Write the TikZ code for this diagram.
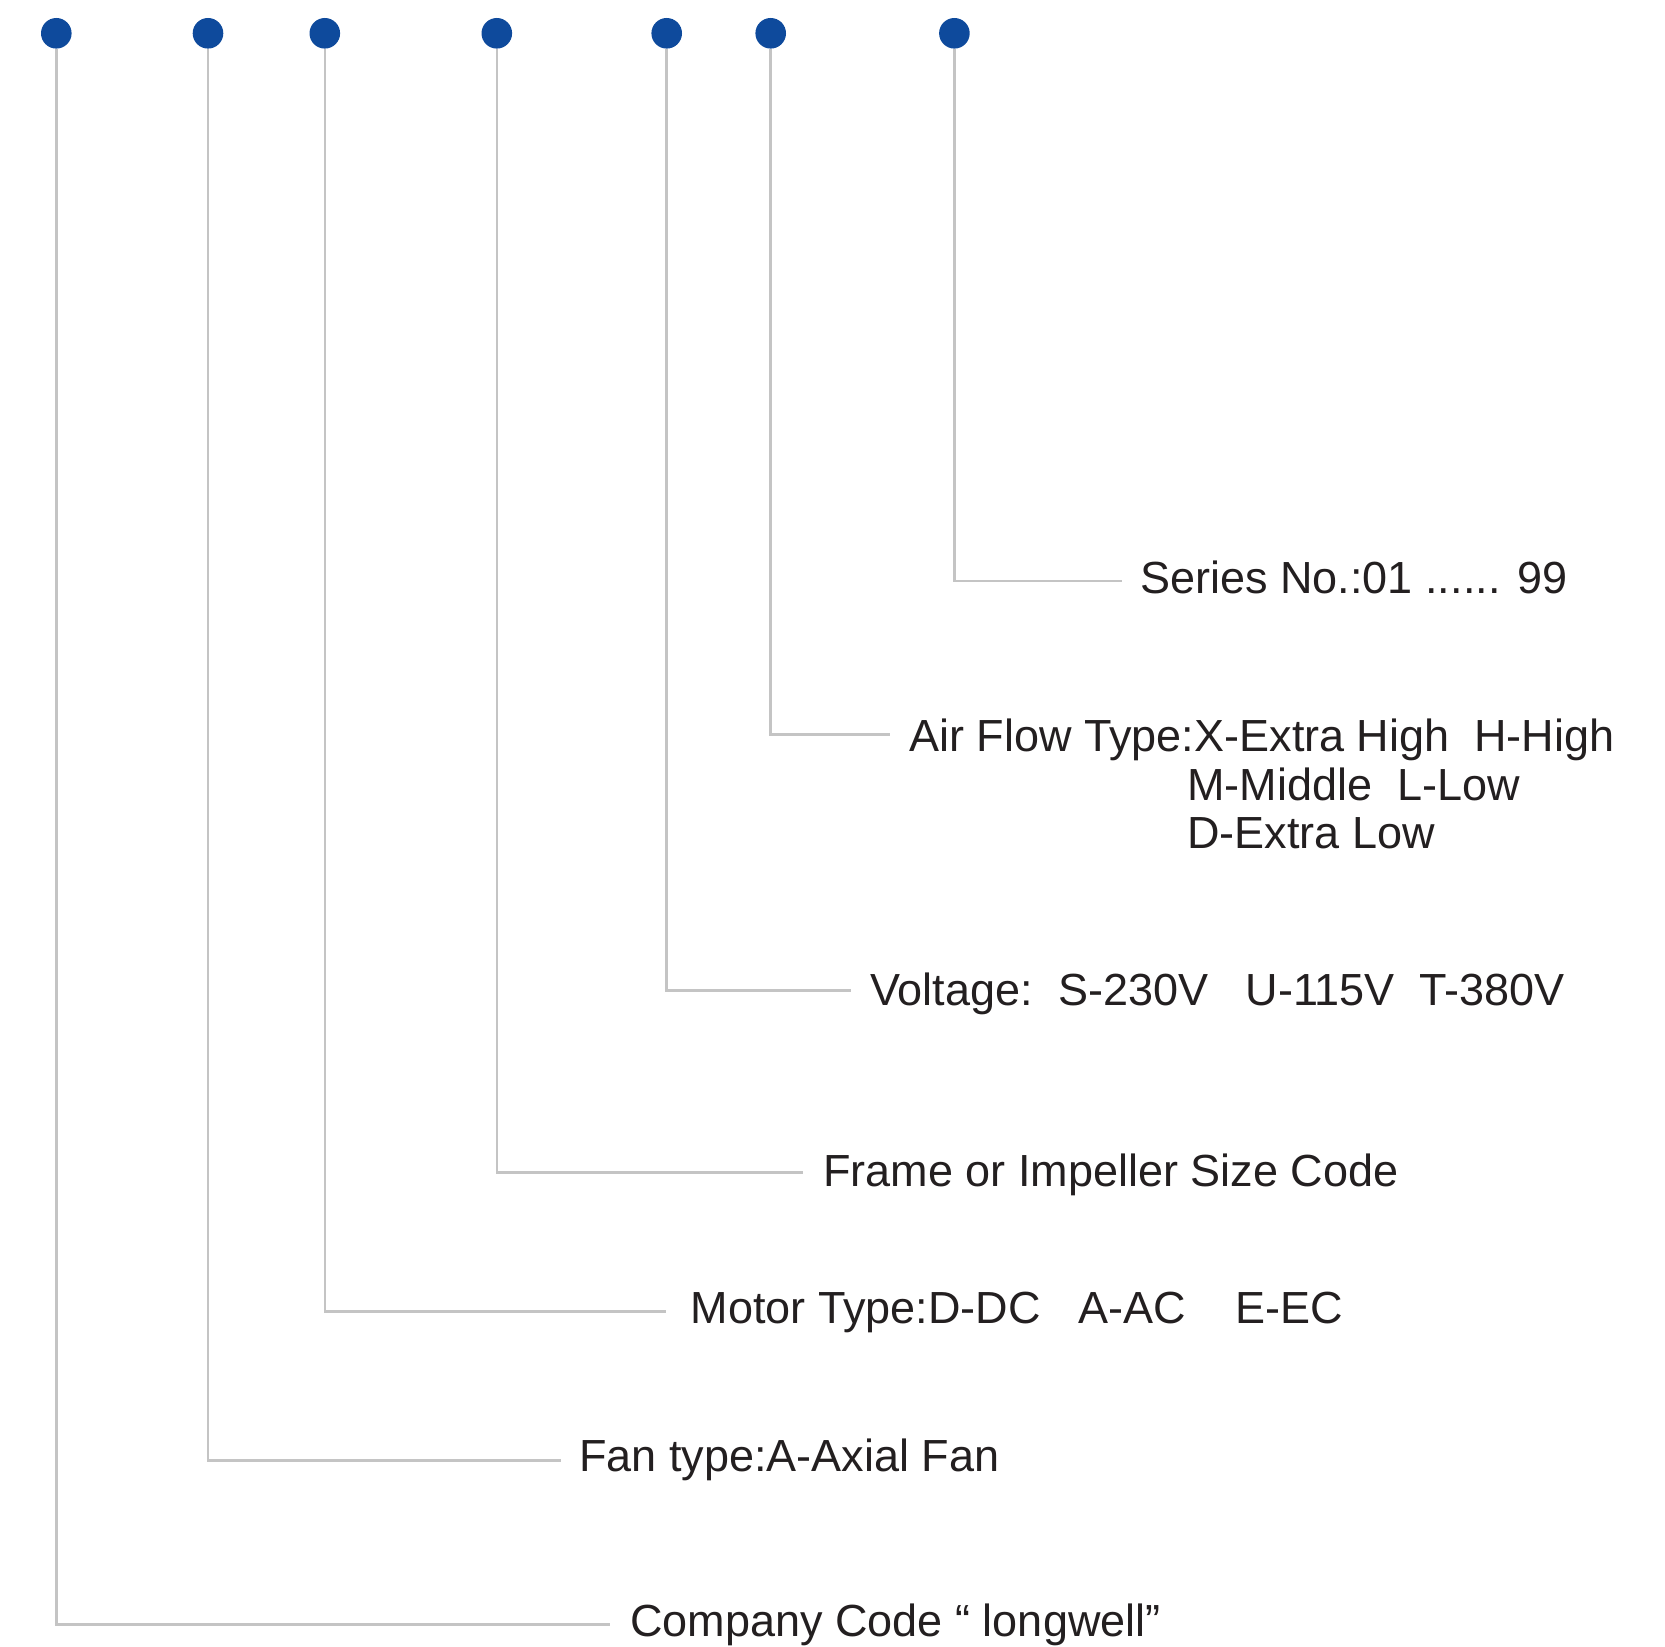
\documentclass[tikz,border=0pt]{standalone}
\usepackage{fontspec}
\setmainfont{Liberation Sans}
\usepackage{tikz}
\usetikzlibrary{calc,positioning}
\definecolor{dotblue}{HTML}{0E4A9C}
\definecolor{leadgray}{HTML}{C4C4C4}
\definecolor{txt}{HTML}{231F20}
\tikzset{
  pin/.style={circle,fill=dotblue,minimum size=15.3pt,inner sep=0pt},
  leader/.style={draw=leadgray,line width=1.25pt},
  lbl/.style={anchor=base west,inner sep=0pt,text=txt,font=\fontsize{22.5}{24}\selectfont}
}

\begin{document}
\begin{tikzpicture}[x=0.5pt,y=-0.5pt]
    \useasboundingbox (0,0) rectangle (1665,1647);
    % code dots
    \node[pin] (company) at (56.3,33.3) {};
    \node[pin] (fan) at (208,33.3) {};
    \node[pin] (motor) at (324.8,33.3) {};
    \node[pin] (frame) at (496.8,33.3) {};
    \node[pin] (volt) at (666.7,33.3) {};
    \node[pin] (air) at (770.7,33.3) {};
    \node[pin] (series) at (954.4,33.3) {};
    % ends of the leaders
    \coordinate (company-e) at (610,1624.3);
    \coordinate (fan-e) at (561,1460.7);
    \coordinate (motor-e) at (666,1311.7);
    \coordinate (frame-e) at (802.7,1172.7);
    \coordinate (volt-e) at (851,990.7);
    \coordinate (air-e) at (889.6,734.6);
    \coordinate (series-e) at (1121.7,581);
    \path[leader]
    (company) |- (company-e)
    (fan) |- (fan-e)
    (motor) |- (motor-e)
    (frame) |- (frame-e)
    (volt) |- (volt-e)
    (air) |- (air-e)
    (series) |- (series-e);
    % labels
    \node[lbl] (series-t) at (1140,593.3) {Series No.:01 ...... 99};
    \node[lbl] (air-t) at (909,751.7) {Air Flow Type:X-Extra High~~H-High};
    \node[lbl] (air-t2) at (1187,800) {M-Middle~~L-Low};
    \node[lbl] (air-t3) at (1187,848) {D-Extra Low};
    \node[lbl] (volt-t) at (870,1005.7) {Voltage:~~S-230V~~~U-115V~~T-380V};
    \node[lbl] (frame-t) at (823,1186) {Frame or Impeller Size Code};
    \node[lbl] (motor-t) at (690.5,1323.3) {Motor Type:D-DC~~~A-AC~~~~E-EC};
    \node[lbl] (fan-t) at (579,1471.7) {Fan type:A-Axial Fan};
    \node[lbl] (company-t) at (630,1636) {Company Code “ longwell”};
  \end{tikzpicture}
\end{document}
